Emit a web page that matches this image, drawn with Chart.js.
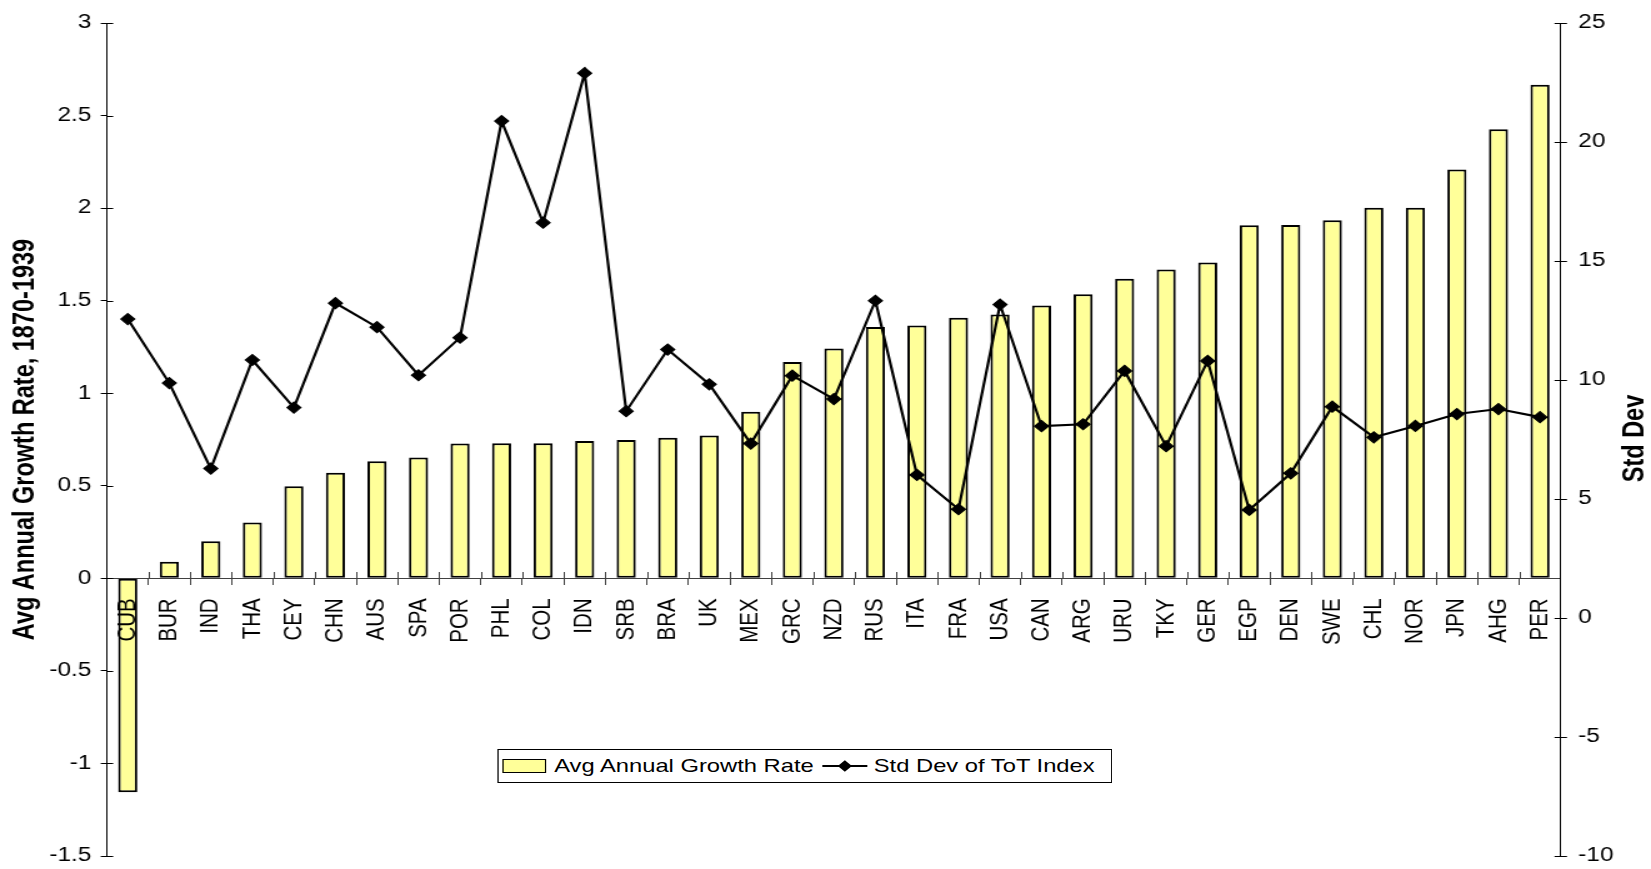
<!DOCTYPE html>
<html>
<head>
<meta charset="utf-8">
<script src="https://cdn.jsdelivr.net/npm/chart.js@4.4.1/dist/chart.umd.min.js"></script>
<style>
  html, body { margin: 0; padding: 0; background: #fff; overflow: hidden; }
  #wrap { position: absolute; left: 0; top: 0; width: 1321px; height: 869px;
          transform: scaleX(1.2498); transform-origin: 0 0; }
  #c { display: block; width: 1321px; height: 869px; }
  #legend { position: absolute; left: 398.4px; top: 749px; width: 491.2px; height: 34px;
            box-sizing: border-box; border: 1px solid #000; background: #fff;
            display: flex; align-items: center; white-space: nowrap;
            font: 19px "Liberation Sans", Arial, Helvetica, sans-serif; color: #000; }
  #legend .sw { flex: none; width: 35px; height: 14px; box-sizing: border-box; border: 1.5px solid #000;
                background: #FFFF99; margin-left: 3px; margin-right: 6px; }
  #legend .ln { flex: none; position: relative; width: 36px; height: 2px; background: #000;
                margin-left: 7px; margin-right: 5px; }
  #legend .ln i { position: absolute; left: 50%; top: 50%; width: 8px; height: 8px; background: #000;
                  transform: translate(-50%, -50%) rotate(45deg); }
</style>
</head>
<body>
<div id="wrap">
  <canvas id="c" width="1321" height="869"></canvas>
  <div id="legend"></div>
</div>
<script>
// ---- data ----
const categories = ['CUB','BUR','IND','THA','CEY','CHN','AUS','SPA','POR','PHL','COL','IDN','SRB','BRA','UK','MEX','GRC','NZD','RUS','ITA','FRA','USA','CAN','ARG','URU','TKY','GER','EGP','DEN','SWE','CHL','NOR','JPN','AHG','PER'];
const growthRate = [-1.155, 0.09, 0.2, 0.302, 0.498, 0.57, 0.632, 0.653, 0.729, 0.73, 0.73, 0.742, 0.747, 0.76, 0.772, 0.9, 1.168, 1.242, 1.358, 1.366, 1.408, 1.425, 1.474, 1.534, 1.619, 1.668, 1.706, 1.908, 1.909, 1.934, 2.002, 2.002, 2.208, 2.426, 2.666];
const stdDevToT = [12.56, 9.87, 6.28, 10.84, 8.84, 13.23, 12.22, 10.2, 11.78, 20.88, 16.61, 22.89, 8.69, 11.28, 9.82, 7.33, 10.18, 9.2, 13.33, 6.01, 4.57, 13.17, 8.06, 8.14, 10.38, 7.22, 10.8, 4.54, 6.08, 8.88, 7.59, 8.07, 8.57, 8.78, 8.44];
const leftTicks = [-1.5, -1, -0.5, 0, 0.5, 1, 1.5, 2, 2.5, 3];
const rightTicks = [-10, -5, 0, 5, 10, 15, 20, 25];
const seriesNames = ['Avg Annual Growth Rate', 'Std Dev of ToT Index'];
const axisTitles = ['Avg Annual Growth Rate, 1870-1939', 'Std Dev'];

const FONT = '"Liberation Sans", Arial, Helvetica, sans-serif';
Chart.defaults.font.family = FONT;
Chart.defaults.color = '#000';

// inward half of the tick marks + rotated axis titles
const axisExtras = {
  id: 'axisExtras',
  afterDraw(chart) {
    const ctx = chart.ctx;
    const sx = chart.scales.x, sy = chart.scales.y, sy1 = chart.scales.y1;
    const area = chart.chartArea;
    ctx.save();
    ctx.lineWidth = 1;
    ctx.strokeStyle = '#000';
    ctx.beginPath();
    sy.ticks.forEach((t, i) => {
      const p = Math.round(sy.getPixelForTick(i)) + 0.5;
      ctx.moveTo(sy.right, p); ctx.lineTo(sy.right + 5, p);
    });
    sy1.ticks.forEach((t, i) => {
      const p = Math.round(sy1.getPixelForTick(i)) + 0.5;
      ctx.moveTo(sy1.left - 5, p); ctx.lineTo(sy1.left, p);
    });
    ctx.stroke();
    ctx.strokeStyle = '#404040';
    ctx.beginPath();
    const y0 = Math.round(sy.getPixelForValue(0));
    for (let i = 1; i < categories.length; i++) {
      const p = Math.round((sx.getPixelForValue(i - 1) + sx.getPixelForValue(i)) / 2) + 0.5;
      ctx.moveTo(p, y0 - 6); ctx.lineTo(p, y0);
    }
    ctx.stroke();
    // titles
    ctx.fillStyle = '#000';
    ctx.font = 'bold 23.5px ' + FONT;
    ctx.textAlign = 'center';
    ctx.textBaseline = 'middle';
    const cy = (area.top + area.bottom) / 2;
    ctx.save();
    ctx.translate(20.3, cy);
    ctx.rotate(-Math.PI / 2);
    ctx.fillText(axisTitles[0], 0, 0);
    ctx.restore();
    ctx.save();
    ctx.translate(1308.5, cy - 1);
    ctx.rotate(-Math.PI / 2);
    ctx.fillText(axisTitles[1], 0, 0);
    ctx.restore();
    ctx.restore();
  }
};

new Chart(document.getElementById('c'), {
  type: 'bar',
  data: {
    labels: categories,
    datasets: [
      {
        type: 'line', label: seriesNames[1], data: stdDevToT, yAxisID: 'y1', order: 0,
        borderColor: '#000', borderWidth: 2.2, tension: 0, fill: false,
        pointStyle: 'rectRot', pointRadius: 5.5, pointBackgroundColor: '#000',
        pointBorderColor: '#000', pointBorderWidth: 1.2
      },
      {
        type: 'bar', label: seriesNames[0], data: growthRate, yAxisID: 'y', order: 1,
        backgroundColor: '#FFFF99', borderColor: '#000', borderWidth: 2, borderSkipped: false,
        barPercentage: 0.46, categoryPercentage: 1
      }
    ]
  },
  options: {
    responsive: false,
    animation: false,
    devicePixelRatio: 1,
    layout: { padding: { left: 0, right: 0, top: 23, bottom: 13 } },
    plugins: { legend: { display: false }, tooltip: { enabled: false } },
    scales: {
      x: {
        type: 'category', position: { y: 0 }, offset: true,
        afterFit: s => { s.paddingLeft = 0; s.paddingRight = 0; },
        grid: { offset: true, drawOnChartArea: false, drawTicks: true, tickLength: 6, color: '#404040', lineWidth: 1 },
        border: { display: true, color: '#404040', width: 1 },
        ticks: { autoSkip: false, minRotation: 90, maxRotation: 90, padding: 14, color: '#000', z: 1,
                 font: { size: 20.5 } }
      },
      y: {
        type: 'linear', position: 'left', min: leftTicks[0], max: leftTicks[leftTicks.length - 1],
        afterBuildTicks: s => { s.ticks = leftTicks.map(v => ({ value: v })); },
        afterFit: s => { s.width = 85.6; s.paddingTop = 0; s.paddingBottom = 0; },
        grid: { drawOnChartArea: false, tickLength: 5, color: '#000', lineWidth: 1 },
        border: { display: true, color: '#000', width: 1 },
        ticks: { padding: 7.5, color: '#000', font: { size: 19.5 }, callback: v => String(v) }
      },
      y1: {
        type: 'linear', position: 'right', min: rightTicks[0], max: rightTicks[rightTicks.length - 1],
        afterBuildTicks: s => { s.ticks = rightTicks.map(v => ({ value: v })); },
        afterFit: s => { s.width = 72.2; s.paddingTop = 0; s.paddingBottom = 0; },
        grid: { drawOnChartArea: false, tickLength: 5, color: '#000', lineWidth: 1 },
        border: { display: true, color: '#000', width: 1 },
        ticks: { padding: 9, color: '#000', font: { size: 19.5 }, callback: v => String(v) }
      }
    }
  },
  plugins: [axisExtras]
});

// HTML legend built from the series names
const legendEl = document.getElementById('legend');
legendEl.innerHTML =
  '<span class="sw"></span><span class="tx">' + seriesNames[0] + '</span>' +
  '<span class="ln"><i></i></span><span class="tx">' + seriesNames[1] + '</span>';
</script>
</body>
</html>
